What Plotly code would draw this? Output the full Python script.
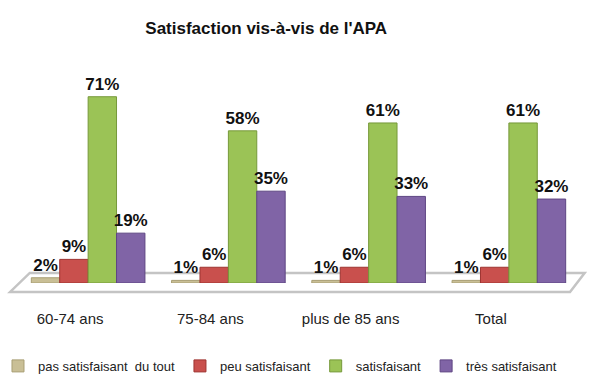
import plotly.graph_objects as go

# Age groups and satisfaction shares (%)
categories = ["60-74 ans", "75-84 ans", "plus de 85 ans", "Total"]
series_names = ["pas satisfaisant  du tout", "peu satisfaisant", "satisfaisant", "très satisfaisant"]
pas_satisfaisant = [2, 1, 1, 1]
peu_satisfaisant = [9, 6, 6, 6]
satisfaisant = [71, 58, 61, 61]
tres_satisfaisant = [19, 35, 33, 32]

values = [pas_satisfaisant, peu_satisfaisant, satisfaisant, tres_satisfaisant]
colors = ["#C9BF96", "#C9504D", "#9BC356", "#8064A6"]
edges = ["#A89E74", "#9E3431", "#76993A", "#5E4683"]

FONT = "Liberation Sans, Arial, sans-serif"

fig = go.Figure()
for name, vals, col, edge in zip(series_names, values, colors, edges):
    fig.add_trace(go.Bar(
        x=categories,
        y=vals,
        name=name,
        marker=dict(color=col, line=dict(color=edge, width=1)),
        texttemplate="<b>%{y}%</b>",
        textposition="outside",
        constraintext="none",
        textfont=dict(family=FONT, size=17, color="#111111"),
        cliponaxis=False,
    ))

# Grey floor under the bars
fig.add_shape(
    type="path",
    xref="paper", yref="paper",
    path="M -0.014 -0.04 L 0.984 -0.04 L 1.01 0.045 L 0.021 0.045 Z",
    fillcolor="#FFFFFF",
    line=dict(color="#C4C4C4", width=2.5),
    layer="below",
)

fig.update_layout(
    width=589, height=376,
    margin=dict(l=18, r=10, t=60, b=93, autoexpand=False),
    paper_bgcolor="white",
    plot_bgcolor="rgba(0,0,0,0)",
    title=dict(
        text="<b>Satisfaction vis-à-vis de l'APA</b>",
        x=0.452, xanchor="center", y=0.925, yanchor="middle",
        font=dict(family=FONT, size=17, color="#111111"),
    ),
    barmode="group",
    bargap=0.19,
    bargroupgap=0.0,
    showlegend=True,
    legend=dict(
        orientation="h",
        x=0.467, xanchor="center",
        y=-0.372, yanchor="middle",
        font=dict(family=FONT, size=13, color="#222222"),
        itemwidth=30,
        traceorder="normal",
    ),
    xaxis=dict(
        showgrid=False, zeroline=False, showline=False,
        ticks="", ticklabelstandoff=25, ticklabelshift=-18,
        tickfont=dict(family=FONT, size=15, color="#222222"),
    ),
    yaxis=dict(
        range=[0, 85], visible=False, showgrid=False, zeroline=False,
    ),
)

fig.write_html("out.html")
